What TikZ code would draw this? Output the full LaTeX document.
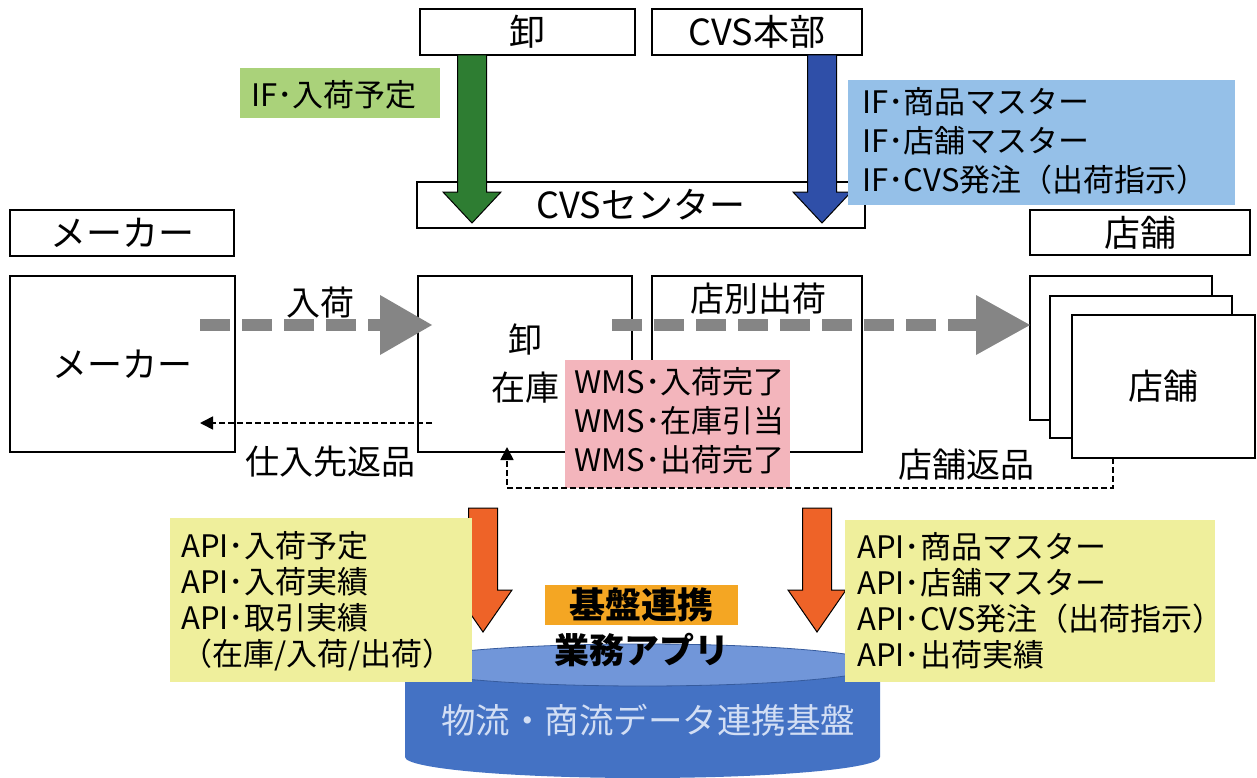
\documentclass[tikz,border=0pt]{standalone}
\usepackage{fontspec}
\setmainfont{Noto Sans CJK JP}
\usetikzlibrary{arrows.meta}
\definecolor{arrgreen}{HTML}{2E7D32}
\definecolor{arrblue}{HTML}{2F4FA8}
\definecolor{lblgreen}{HTML}{AAD27A}
\definecolor{lblblue}{HTML}{95C0E8}
\definecolor{lblpink}{HTML}{F3B5BC}
\definecolor{lblyellow}{HTML}{EFEF9C}
\definecolor{lblorange}{HTML}{F4A623}
\definecolor{arrorange}{HTML}{EE6328}
\definecolor{flowgray}{HTML}{858585}
\definecolor{cyltop}{HTML}{7196D9}
\definecolor{cylbody}{HTML}{4472C4}
\definecolor{cyltext}{HTML}{D2DEF4}
\newcommand\dnarrow[5]{%
  \filldraw[fill=#1, draw=black, line width=1pt, line join=miter]
    (#2-14.5,#3) -- (#2+14.5,#3) -- (#2+14.5,#4) -- (#2+29,#4) -- (#2,#5)
    -- (#2-29,#4) -- (#2-14.5,#4) -- cycle;}
\begin{document}
\begin{tikzpicture}[x=1pt,y=-1pt,
  box/.style={draw=black, line width=1.2pt, fill=white, inner sep=0pt, font=\fontsize{35}{35}\selectfont},
  topbox/.style={box, font=\fontsize{36}{36}\selectfont},
  lbl/.style={inner sep=0pt, align=left, font=\fontsize{31}{39}\selectfont},
  midtxt/.style={inner sep=0pt, font=\fontsize{34}{34}\selectfont},
  thinflow/.style={draw=black, line width=1.6pt, dash pattern=on 6pt off 3pt},
  bigflow/.style={draw=flowgray, line width=12pt, dash pattern=on 30pt off 12pt},
  flowhead/.style={fill=flowgray}
]
\useasboundingbox (0,0) rectangle (1257,778);
\fill[white] (0,0) rectangle (1257,778);

% ---------- top row ----------
\node[topbox, minimum width=215, minimum height=46] (oroshiTop) at (527.5,32) {卸};
\node[topbox, minimum width=210, minimum height=46] (cvsHQ) at (757,32) {CVS本部};
\node[topbox, minimum width=448, minimum height=46] (cvsCenter) at (641,205) {CVSセンター};
\node[topbox, minimum width=224, minimum height=46] (makerTop) at (122,233) {メーカー};
\node[topbox, minimum width=220, minimum height=45] (storeTop) at (1140,232.5) {店舗};

% IF arrows
\dnarrow{arrgreen}{472}{55}{192}{223}
\dnarrow{arrblue}{822}{55}{192}{223}
\node[fill=lblgreen, minimum width=200, minimum height=50, inner sep=0pt] (ifGreen) at (340,93) {};
\node[lbl, anchor=west] (ifGreenTxt) at (251,95) {IF･入荷予定};
\node[fill=lblblue, minimum width=387, minimum height=125, inner sep=0pt] (ifBlue) at (1041.5,142.5) {};
\node[lbl, anchor=west] (ifBlueTxt) at (862,141) {IF･商品マスター\\IF･店舗マスター\\IF･CVS発注（出荷指示）};

% ---------- middle row ----------
\node[box, minimum width=225, minimum height=176] (maker) at (122.5,364) {メーカー};
\node[box, minimum width=214, minimum height=176, align=center, font=\fontsize{34}{48}\selectfont] (stock) at (525,364) {卸\\在庫};
\node[box, minimum width=210, minimum height=176] (tenbetsu) at (757,364) {};
\node[midtxt, anchor=north] (tenbetsuTxt) at (758,283) {店別出荷};
\node[box, minimum width=182, minimum height=144] (storeA) at (1121,348) {};
\node[box, minimum width=182, minimum height=142] (storeB) at (1141,367) {};
\node[box, minimum width=183, minimum height=143] (store) at (1163.5,386.5) {店舗};

% big flow arrows
\coordinate (inS) at (200,325);
\coordinate (inE) at (386,325);
\coordinate (inT) at (432,325);
\draw[bigflow] (inS) -- (inE);
\fill[flowhead] (inT) -- ++(-52,-30) -- ++(0,60) -- cycle;
\node[midtxt] (nyuka) at (320,303) {入荷};

\coordinate (outS) at (612,325);
\coordinate (outE) at (980,325);
\coordinate (outT) at (1030,325);
\draw[bigflow] (outS) -- (outE);
\fill[flowhead] (outT) -- ++(-54,-30) -- ++(0,60) -- cycle;

% pink WMS
\node[fill=lblpink, minimum width=225, minimum height=128, inner sep=0pt] (wms) at (677.5,424) {};
\node[lbl, anchor=west] (wmsTxt) at (574,421) {WMS･入荷完了\\WMS･在庫引当\\WMS･出荷完了};

% returns
\coordinate (retS) at (432,423);
\coordinate (retE) at (200,423);
\draw[thinflow, -{Triangle[length=13pt,width=13pt]}] (retS) -- (retE);
\node[midtxt] (shiire) at (330,462) {仕入先返品};

\coordinate (srS) at (1113,458);
\coordinate (srC1) at (1113,488);
\coordinate (srC2) at (507,488);
\coordinate (srE) at (507,447);
\draw[thinflow, -{Triangle[length=13pt,width=13pt]}] (srS) -- (srC1) -- (srC2) -- (srE);
\node[midtxt] (tenpoHenpin) at (966,465) {店舗返品};

% ---------- bottom ----------
% cylinder
\fill[cylbody] (405,665) -- (405,757) arc[start angle=180, end angle=360, x radius=237.5, y radius=-21] -- (880,665) -- cycle;
\fill[cyltop] (642.5,665) ellipse[x radius=237.5, y radius=21];
\draw[cylbody!80!black, line width=0.8pt] (642.5,665) ellipse[x radius=237.5, y radius=21];
\node[text=cyltext, font=\fontsize{34.5}{34.5}\selectfont] (base) at (648,720) {物流・商流データ連携基盤};

\dnarrow{arrorange}{483}{508}{590}{632}
\dnarrow{arrorange}{817}{508}{590}{632}

\node[fill=lblyellow, minimum width=302, minimum height=164, inner sep=0pt] (apiL) at (321,600) {};
\node[lbl, anchor=west, font=\fontsize{31}{36}\selectfont] (apiLTxt) at (181,601) {API･入荷予定\\API･入荷実績\\API･取引実績\\（在庫/入荷/出荷）};
\node[fill=lblyellow, minimum width=370, minimum height=162, inner sep=0pt] (apiR) at (1030,601) {};
\node[lbl, anchor=west, font=\fontsize{31}{36}\selectfont] (apiRTxt) at (857,601) {API･商品マスター\\API･店舗マスター\\API･CVS発注（出荷指示）\\API･出荷実績};

\node[fill=lblorange, minimum width=193, minimum height=40, inner sep=0pt, font=\bfseries\fontsize{36}{36}\selectfont] (kiban) at (641.5,605) {基盤連携};
\node[font=\bfseries\fontsize{35}{35}\selectfont] (gyomu) at (642,650) {業務アプリ};
\end{tikzpicture}
\end{document}
